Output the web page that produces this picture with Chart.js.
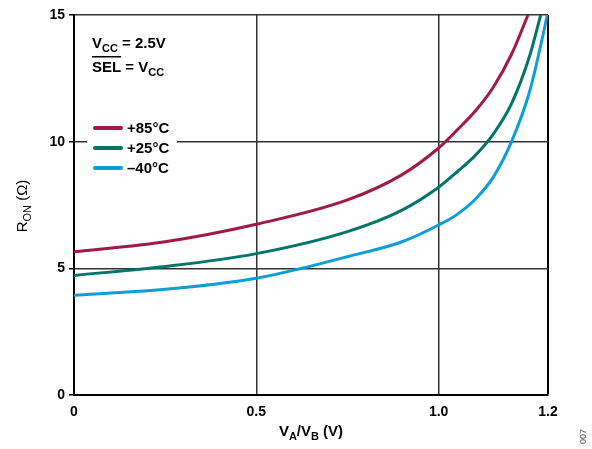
<!DOCTYPE html>
<html>
<head>
<meta charset="utf-8">
<script src="https://cdn.jsdelivr.net/npm/chart.js@4"></script>
<style>
  body{margin:0;background:#fff}
  #wrap{width:592px;height:449px}
</style>
</head>
<body>
<div id="wrap"><canvas id="chart" width="592" height="449"></canvas></div>
<script>
// data
var Legends = ['+85°C', '+25°C', '\u201340°C']
var Colors = ['#a11a46', '#00756a', '#0d9ed8']
var X85 = [0, 0.25, 0.5, 0.75, 0.9, 1.0, 1.05, 1.1, 1.15, 1.2, 1.245]
var Y85 = [5.65, 6.05, 6.74, 7.7, 8.7, 9.75, 10.45, 11.2, 12.15, 13.45, 15]
var X25 = [0, 0.25, 0.5, 0.75, 0.9, 1.0, 1.05, 1.1, 1.15, 1.2, 1.25, 1.28]
var Y25 = [4.72, 5.07, 5.58, 6.45, 7.3, 8.2, 8.8, 9.45, 10.3, 11.5, 13.4, 15]
var Xm40 = [0, 0.25, 0.5, 0.625, 0.75, 0.9, 1.0, 1.05, 1.1, 1.15, 1.2, 1.25, 1.28, 1.298]
var Ym40 = [3.94, 4.17, 4.61, 5.0, 5.46, 6.05, 6.71, 7.12, 7.72, 8.6, 10.0, 12.0, 13.8, 15]
var XTickValues = [0, 0.5, 1.0, 1.3]
var XTickLabels = ['0', '0.5', '1.0', '1.2']
var YTickValues = [0, 5, 10, 15]

var FONT = "'Liberation Sans', Arial, sans-serif"

function toPoints(xs, ys){
  return xs.map(function(x, i){ return {x: x, y: ys[i]} })
}

// draw text with subscripts: parts = [[text, isSub], ...]
function drawParts(c, parts, cx, baseY, size, weight){
  var main = weight + ' ' + size + 'px ' + FONT
  var sub = weight + ' ' + Math.round(size * 0.75) + 'px ' + FONT
  var w = 0
  parts.forEach(function(p){ c.font = p[1] ? sub : main; w += c.measureText(p[0]).width })
  var x = cx - w / 2
  parts.forEach(function(p){
    c.font = p[1] ? sub : main
    c.fillText(p[0], x, p[1] ? baseY + 4 : baseY)
    x += c.measureText(p[0]).width
  })
}

function drawPartsLeft(c, parts, x, baseY, size, weight){
  var main = weight + ' ' + size + 'px ' + FONT
  var sub = weight + ' ' + Math.round(size * 0.75) + 'px ' + FONT
  parts.forEach(function(p){
    c.font = p[1] ? sub : main
    c.fillText(p[0], x, p[1] ? baseY + 4 : baseY)
    x += c.measureText(p[0]).width
  })
}

var extras = {
  id: 'extras',
  afterDraw: function(chart){
    var c = chart.ctx
    c.save()
    c.fillStyle = '#000'
    c.textAlign = 'left'
    c.textBaseline = 'alphabetic'

    // x title
    drawParts(c, [['V', false], ['A', true], ['/V', false], ['B', true], [' (V)', false]], 311, 436, 15, 'bold')

    // y title
    c.save()
    c.translate(27, 206)
    c.rotate(-Math.PI / 2)
    drawParts(c, [['R', false], ['ON', true], [' (\u03a9)', false]], 0, 0, 15, 'normal')
    c.restore()

    // conditions
    drawPartsLeft(c, [['V', false], ['CC', true], [' = 2.5V', false]], 92, 48, 15, 'bold')
    drawPartsLeft(c, [['SEL', false], [' = V', false], ['CC', true]], 92, 72, 15, 'bold')
    c.font = 'bold 15px ' + FONT
    var selW = c.measureText('SEL').width
    c.fillRect(92, 56, selW, 1.5)

    // legend
    c.fillStyle = '#fff'
    c.fillRect(87, 118, 90, 60)
    chart.data.datasets.forEach(function(ds, i){
      var y = 128 + i * 20
      c.strokeStyle = ds.borderColor
      c.lineWidth = 4
      c.lineCap = 'round'
      c.beginPath()
      c.moveTo(95, y)
      c.lineTo(121, y)
      c.stroke()
      c.fillStyle = '#000'
      c.font = 'bold 15px ' + FONT
      c.textBaseline = 'middle'
      c.fillText(ds.label, 127, y + 1)
    })

    // figure number
    c.save()
    c.translate(584, 444)
    c.rotate(-Math.PI / 2)
    c.font = '9px ' + FONT
    c.fillStyle = '#555'
    c.textBaseline = 'middle'
    c.fillText('007', 0, 0)
    c.restore()
    c.restore()
  }
}

var datagroup = [
  {label: Legends[0], data: toPoints(X85, Y85), borderColor: Colors[0]},
  {label: Legends[1], data: toPoints(X25, Y25), borderColor: Colors[1]},
  {label: Legends[2], data: toPoints(Xm40, Ym40), borderColor: Colors[2]}
].map(function(d){
  d.borderWidth = 3
  d.pointRadius = 0
  d.fill = false
  d.cubicInterpolationMode = 'monotone'
  return d
})

new Chart(document.getElementById('chart'), {
  type: 'line',
  data: {datasets: datagroup},
  plugins: [extras],
  options: {
    responsive: false,
    animation: false,
    layout: {padding: {left: 0, right: 44, top: 15, bottom: 0}},
    plugins: {legend: {display: false}, tooltip: {enabled: false}},
    scales: {
      x: {
        type: 'linear',
        min: 0,
        max: 1.3,
        afterBuildTicks: function(s){ s.ticks = XTickValues.map(function(v){ return {value: v} }) },
        afterFit: function(s){ s.height = 54 },
        ticks: {
          color: '#000',
          font: {family: FONT, size: 14, weight: 'bold'},
          padding: 9,
          maxRotation: 0,
          autoSkip: false,
          callback: function(v){ return XTickLabels[XTickValues.indexOf(v)] }
        },
        grid: {
          drawTicks: false,
          color: function(ctx){
            var v = ctx.tick && ctx.tick.value
            if (v === 0) return 'rgba(0,0,0,0)'
            return v === 1.3 ? '#000' : '#333'
          },
          lineWidth: function(ctx){ return ctx.tick && ctx.tick.value === 1.3 ? 2 : 1.5 }
        },
        border: {color: '#000', width: 2}
      },
      y: {
        min: 0,
        max: 15,
        afterBuildTicks: function(s){ s.ticks = YTickValues.map(function(v){ return {value: v} }) },
        afterFit: function(s){ s.width = 74 },
        ticks: {
          color: '#000',
          font: {family: FONT, size: 14, weight: 'bold'},
          padding: 4
        },
        grid: {
          color: '#333',
          tickColor: '#000',
          tickLength: 5,
          lineWidth: 1.5
        },
        border: {color: '#000', width: 2}
      }
    }
  }
})
</script>
</body>
</html>
